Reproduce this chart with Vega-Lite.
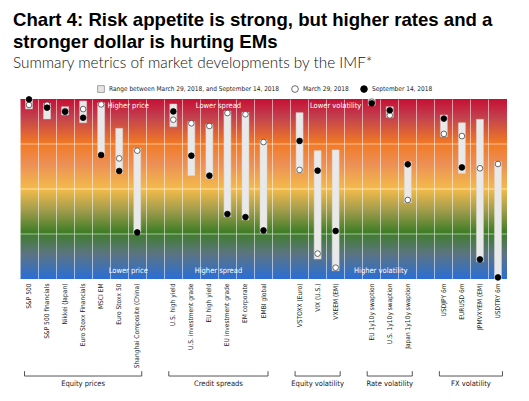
{
  "$schema": "https://vega.github.io/schema/vega-lite/v6.json",
  "width": 487,
  "height": 180,
  "autosize": "none",
  "padding": {"left": 20, "top": 99, "right": 22, "bottom": 122},
  "title": {
    "text": ["Chart 4: Risk appetite is strong, but higher rates and a", "stronger dollar is hurting EMs"],
    "subtitle": "Summary metrics of market developments by the IMF*",
    "anchor": "start",
    "frame": "group",
    "font": "Liberation Sans",
    "fontSize": 18.6,
    "fontWeight": "bold",
    "lineHeight": 22,
    "color": "#000000",
    "subtitleFont": "Lato",
    "subtitleFontSize": 15.3,
    "subtitleFontWeight": 300,
    "subtitleColor": "#111111",
    "subtitlePadding": 4,
    "offset": 14,
    "dx": -7
  },
  "data": {"values": [{}]},
  "datasets": {
    "metrics": [
      {"col": "S&P 500", "lo": 94.5, "hi": 100, "March 29, 2018": 96.7, "September 14, 2018": 99.8},
      {"col": "S&P 500 financials", "lo": 88.9, "hi": 97.6, "March 29, 2018": 96.8, "September 14, 2018": 95.2},
      {"col": "Nikkei (Japan)", "lo": 91.1, "hi": 95.7, "March 29, 2018": 93.3, "September 14, 2018": 92.9},
      {"col": "Euro Stoxx Financials", "lo": 86.8, "hi": 98.9, "March 29, 2018": 94.4, "September 14, 2018": 89.6},
      {"col": "MSCI EM", "lo": 68.3, "hi": 97.9, "March 29, 2018": 97.0, "September 14, 2018": 68.9},
      {"col": "Euro Stoxx 50", "lo": 58.7, "hi": 83.7, "March 29, 2018": 67.0, "September 14, 2018": 60.0},
      {"col": "Shanghai Composite (China)", "lo": 25.0, "hi": 72.6, "March 29, 2018": 71.3, "September 14, 2018": 25.9},
      {"col": "U.S. high yield", "lo": 84.6, "hi": 97.2, "March 29, 2018": 88.5, "September 14, 2018": 93.1},
      {"col": "U.S. investment grade", "lo": 57.4, "hi": 87.4, "March 29, 2018": 86.5, "September 14, 2018": 68.5},
      {"col": "EU high yield", "lo": 55.9, "hi": 85.9, "March 29, 2018": 85.0, "September 14, 2018": 57.4},
      {"col": "EU investment grade", "lo": 34.6, "hi": 93.3, "March 29, 2018": 92.2, "September 14, 2018": 36.1},
      {"col": "EM corporate", "lo": 32.8, "hi": 92.6, "March 29, 2018": 91.5, "September 14, 2018": 34.4},
      {"col": "EMBI global", "lo": 25.7, "hi": 77.2, "March 29, 2018": 76.1, "September 14, 2018": 27.0},
      {"col": "VSTOXX (Euro)", "lo": 59.3, "hi": 92.4, "March 29, 2018": 60.6, "September 14, 2018": 76.7},
      {"col": "VIX (U.S.)", "lo": 11.1, "hi": 71.3, "March 29, 2018": 14.1, "September 14, 2018": 60.2},
      {"col": "VXEEM (EM)", "lo": 4.6, "hi": 71.7, "March 29, 2018": 6.3, "September 14, 2018": 26.7},
      {"col": "EU 1y10y swaption", "lo": 96.5, "hi": 100, "March 29, 2018": 98.5, "September 14, 2018": 97.6},
      {"col": "U.S. 1y10y swaption", "lo": 89.8, "hi": 95.7, "March 29, 2018": 90.9, "September 14, 2018": 93.7},
      {"col": "Japan 1y10y swaption", "lo": 42.4, "hi": 65.2, "March 29, 2018": 43.9, "September 14, 2018": 63.7},
      {"col": "USDJPY 6m", "lo": 79.1, "hi": 91.1, "March 29, 2018": 80.6, "September 14, 2018": 89.1},
      {"col": "EURUSD 6m", "lo": 58.7, "hi": 86.8, "March 29, 2018": 79.4, "September 14, 2018": 62.0},
      {"col": "JPMVXYEM (EM)", "lo": 9.6, "hi": 88.7, "March 29, 2018": 61.5, "September 14, 2018": 10.9},
      {"col": "USDTRY 6m", "lo": 0, "hi": 65.2, "March 29, 2018": 63.9, "September 14, 2018": 0.9}
    ],
    "notes": [
      {"label": "Higher price", "mid": "Euro Stoxx 50", "end": "top", "between": true},
      {"label": "Lower price", "mid": "Euro Stoxx 50", "end": "bottom", "between": true},
      {"label": "Lower spread", "mid": "EU high yield", "end": "top", "between": true},
      {"label": "Higher spread", "mid": "EU high yield", "end": "bottom", "between": true},
      {"label": "Lower volatility", "mid": "VXEEM (EM)", "end": "top", "between": false},
      {"label": "Higher volatility", "mid": "EU 1y10y swaption", "end": "bottom", "between": true}
    ],
    "groups": [
      {"group": "Equity prices", "from": "S&P 500", "to": "Shanghai Composite (China)", "mid": "Euro Stoxx Financials", "between": false},
      {"group": "Credit spreads", "from": "U.S. high yield", "to": "EMBI global", "mid": "EU high yield", "between": true},
      {"group": "Equity volatility", "from": "VSTOXX (Euro)", "to": "VXEEM (EM)", "mid": "VIX (U.S.)", "between": false},
      {"group": "Rate volatility", "from": "EU 1y10y swaption", "to": "Japan 1y10y swaption", "mid": "U.S. 1y10y swaption", "between": false},
      {"group": "FX volatility", "from": "USDJPY 6m", "to": "USDTRY 6m", "mid": "EURUSD 6m", "between": true}
    ]
  },
  "layer": [
    {
      "mark": {
        "type": "rect",
        "fill": {
          "gradient": "linear", "x1": 0, "y1": 0, "x2": 0, "y2": 1,
          "stops": [
            {"offset": 0, "color": "#c70f34"},
            {"offset": 0.1, "color": "#c2404e"},
            {"offset": 0.25, "color": "#f27a24"},
            {"offset": 0.36, "color": "#ec8f56"},
            {"offset": 0.5, "color": "#f4bb4a"},
            {"offset": 0.62, "color": "#a09c4c"},
            {"offset": 0.74, "color": "#3f7d26"},
            {"offset": 0.86, "color": "#5c7482"},
            {"offset": 1, "color": "#2a6ed6"}
          ]
        }
      },
      "encoding": {
        "x": {
          "datum": "S&P 500", "type": "nominal", "bandPosition": 0,
          "scale": {
            "type": "band", "paddingInner": 0, "paddingOuter": 0,
            "domain": ["S&P 500", "S&P 500 financials", "Nikkei (Japan)", "Euro Stoxx Financials", "MSCI EM", "Euro Stoxx 50", "Shanghai Composite (China)", "gap1", "U.S. high yield", "U.S. investment grade", "EU high yield", "EU investment grade", "EM corporate", "EMBI global", "gap2", "VSTOXX (Euro)", "VIX (U.S.)", "VXEEM (EM)", "gap3", "EU 1y10y swaption", "U.S. 1y10y swaption", "Japan 1y10y swaption", "gap4", "USDJPY 6m", "EURUSD 6m", "JPMVXYEM (EM)", "USDTRY 6m"]
          },
          "axis": {
            "orient": "bottom",
            "labelAngle": 270,
            "labelAlign": "right",
            "labelBaseline": "middle",
            "labelPadding": 4,
            "labelFont": "Liberation Sans Narrow, DejaVu Sans Condensed, sans-serif",
            "labelFontSize": 6.6,
            "labelColor": "#1a1a1a",
            "labelLimit": 200,
            "labelExpr": "indexof(datum.value, 'gap') == 0 ? '' : datum.value",
            "ticks": false,
            "domain": false,
            "grid": true,
            "bandPosition": 0,
            "gridColor": "#ffffff",
            "gridOpacity": 0.55,
            "gridWidth": 1,
            "zindex": 1,
            "title": null
          }
        },
        "x2": {"datum": "USDTRY 6m", "bandPosition": 1},
        "y": {
          "datum": 100, "type": "quantitative",
          "scale": {"domain": [0, 100], "nice": false, "zero": false},
          "axis": {"labels": false, "ticks": false, "domain": false, "grid": false, "title": null}
        },
        "y2": {"datum": 0}
      }
    },
    {
      "mark": {"type": "rule", "color": "#ffffff", "opacity": 0.55, "strokeWidth": 1},
      "encoding": {"y": {"datum": 25}}
    },
    {
      "mark": {"type": "rule", "color": "#ffffff", "opacity": 0.55, "strokeWidth": 1},
      "encoding": {"y": {"datum": 50}}
    },
    {
      "mark": {"type": "rule", "color": "#ffffff", "opacity": 0.55, "strokeWidth": 1},
      "encoding": {"y": {"datum": 75}}
    },
    {
      "data": {"name": "metrics"},
      "mark": {"type": "bar", "width": 7, "fill": "#e9e9e9", "stroke": "#d2d2d2", "strokeWidth": 0.5},
      "encoding": {
        "x": {"field": "col", "type": "nominal", "title": null},
        "y": {"field": "hi", "type": "quantitative", "title": null},
        "y2": {"field": "lo"}
      }
    },
    {
      "data": {"name": "metrics"},
      "transform": [{"fold": ["March 29, 2018", "September 14, 2018"], "as": ["series", "value"]}],
      "mark": {"type": "point", "size": 32, "strokeWidth": 0.8, "opacity": 1},
      "encoding": {
        "x": {"field": "col", "type": "nominal", "title": null},
        "y": {"field": "value", "type": "quantitative", "title": null},
        "shape": {"field": "series", "type": "nominal", "legend": {"title": null},
          "scale": {"domain": ["Range between March 29, 2018, and September 14, 2018", "March 29, 2018", "September 14, 2018"], "range": ["square", "circle", "circle"]}},
        "fill": {"field": "series", "type": "nominal", "legend": {"title": null},
          "scale": {"domain": ["Range between March 29, 2018, and September 14, 2018", "March 29, 2018", "September 14, 2018"], "range": ["#e6e6e6", "#ffffff", "#000000"]}},
        "stroke": {"field": "series", "type": "nominal", "legend": {"title": null},
          "scale": {"domain": ["Range between March 29, 2018, and September 14, 2018", "March 29, 2018", "September 14, 2018"], "range": ["#8c8c8c", "#444444", "#000000"]}}
      }
    },
    {
      "data": {"name": "notes"},
      "transform": [{"filter": "datum.end == 'top' && datum.between"}],
      "mark": {"type": "text", "color": "#ffffff", "font": "Liberation Sans Narrow, DejaVu Sans Condensed, sans-serif", "fontSize": 7.5, "baseline": "middle", "align": "center"},
      "encoding": {
        "x": {"field": "mid", "type": "nominal", "bandPosition": 1, "title": null},
        "y": {"datum": 96},
        "text": {"field": "label"}
      }
    },
    {
      "data": {"name": "notes"},
      "transform": [{"filter": "datum.end == 'top' && !datum.between"}],
      "mark": {"type": "text", "color": "#ffffff", "font": "Liberation Sans Narrow, DejaVu Sans Condensed, sans-serif", "fontSize": 7.5, "baseline": "middle", "align": "center"},
      "encoding": {
        "x": {"field": "mid", "type": "nominal", "bandPosition": 0.5, "title": null},
        "y": {"datum": 96},
        "text": {"field": "label"}
      }
    },
    {
      "data": {"name": "notes"},
      "transform": [{"filter": "datum.end == 'bottom'"}],
      "mark": {"type": "text", "color": "#ffffff", "font": "Liberation Sans Narrow, DejaVu Sans Condensed, sans-serif", "fontSize": 7.5, "baseline": "middle", "align": "center"},
      "encoding": {
        "x": {"field": "mid", "type": "nominal", "bandPosition": 1, "title": null},
        "y": {"datum": 4.6},
        "text": {"field": "label"}
      }
    },
    {
      "data": {"name": "groups"},
      "mark": {"type": "rule", "color": "#555555", "strokeWidth": 1},
      "encoding": {
        "x": {"field": "from", "type": "nominal", "bandPosition": 0.25, "title": null},
        "x2": {"field": "to", "bandPosition": 0.75},
        "y": {"datum": -53.9}
      }
    },
    {
      "data": {"name": "groups"},
      "mark": {"type": "rule", "color": "#555555", "strokeWidth": 1},
      "encoding": {
        "x": {"field": "from", "type": "nominal", "bandPosition": 0.25, "title": null},
        "y": {"datum": -53.9},
        "y2": {"datum": -51.2}
      }
    },
    {
      "data": {"name": "groups"},
      "mark": {"type": "rule", "color": "#555555", "strokeWidth": 1},
      "encoding": {
        "x": {"field": "to", "type": "nominal", "bandPosition": 0.75, "title": null},
        "y": {"datum": -53.9},
        "y2": {"datum": -51.2}
      }
    },
    {
      "data": {"name": "groups"},
      "transform": [{"filter": "datum.between"}],
      "mark": {"type": "text", "color": "#222222", "font": "Liberation Sans Narrow, DejaVu Sans Condensed, sans-serif", "fontSize": 7.5, "baseline": "middle", "align": "center"},
      "encoding": {
        "x": {"field": "mid", "type": "nominal", "bandPosition": 1, "title": null},
        "y": {"datum": -58.5},
        "text": {"field": "group"}
      }
    },
    {
      "data": {"name": "groups"},
      "transform": [{"filter": "!datum.between"}],
      "mark": {"type": "text", "color": "#222222", "font": "Liberation Sans Narrow, DejaVu Sans Condensed, sans-serif", "fontSize": 7.5, "baseline": "middle", "align": "center"},
      "encoding": {
        "x": {"field": "mid", "type": "nominal", "bandPosition": 0.5, "title": null},
        "y": {"datum": -58.5},
        "text": {"field": "group"}
      }
    }
  ],
  "config": {
    "view": {"stroke": null},
    "legend": {
      "orient": "none",
      "legendX": 77,
      "legendY": -14,
      "direction": "horizontal",
      "labelFont": "Liberation Sans Narrow, DejaVu Sans Condensed, sans-serif",
      "labelFontSize": 6.5,
      "labelColor": "#222222",
      "symbolSize": 45,
      "symbolStrokeWidth": 0.8,
      "columnPadding": 10,
      "labelLimit": 400,
      "padding": 0
    }
  }
}
